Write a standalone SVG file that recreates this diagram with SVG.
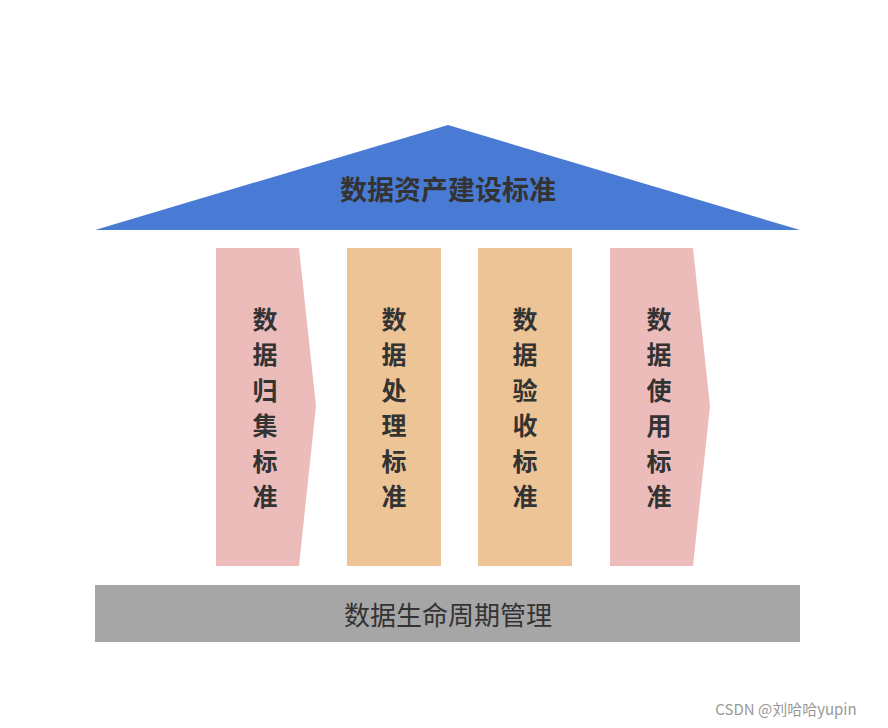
<svg xmlns="http://www.w3.org/2000/svg" width="888" height="728" viewBox="0 0 888 728">
<style>
text{font-family:"Noto Sans CJK SC","Liberation Sans",sans-serif;fill:#333;text-anchor:middle;dominant-baseline:central}
.v{font-size:25px;font-weight:bold}
.pink{fill:#ecbcbb}.orange{fill:#ecc495}
</style>
<rect width="888" height="728" fill="#fff"/>
<g id="roof"><polygon points="95,230 448,125 800,230" fill="#4a7bd4"/><text x="448" y="188" font-size="27" font-weight="bold">数据资产建设标准</text></g>
<g id="p1"><polygon class="pink" points="216,248 299,248 316,406 299,566 216,566"/>
<text class="v" x="265" y="318">数</text><text class="v" x="265" y="353">据</text><text class="v" x="265" y="389">归</text><text class="v" x="265" y="424">集</text><text class="v" x="265" y="460">标</text><text class="v" x="265" y="495">准</text></g>
<g id="p2"><rect class="orange" x="347" y="248" width="94" height="318"/>
<text class="v" x="394" y="318">数</text><text class="v" x="394" y="353">据</text><text class="v" x="394" y="389">处</text><text class="v" x="394" y="424">理</text><text class="v" x="394" y="460">标</text><text class="v" x="394" y="495">准</text></g>
<g id="p3"><rect class="orange" x="478" y="248" width="94" height="318"/>
<text class="v" x="525" y="318">数</text><text class="v" x="525" y="353">据</text><text class="v" x="525" y="389">验</text><text class="v" x="525" y="424">收</text><text class="v" x="525" y="460">标</text><text class="v" x="525" y="495">准</text></g>
<g id="p4"><polygon class="pink" points="610,248 693,248 710,406 693,566 610,566"/>
<text class="v" x="659" y="318">数</text><text class="v" x="659" y="353">据</text><text class="v" x="659" y="389">使</text><text class="v" x="659" y="424">用</text><text class="v" x="659" y="460">标</text><text class="v" x="659" y="495">准</text></g>
<g id="base"><rect x="95" y="585" width="705" height="57" fill="#a6a6a6"/><text x="448" y="613" font-size="26">数据生命周期管理</text></g>
<g id="connectors"/>
<text x="786" y="708" font-size="15" fill="#888" style="fill:#999">CSDN @刘哈哈yupin</text>
</svg>
